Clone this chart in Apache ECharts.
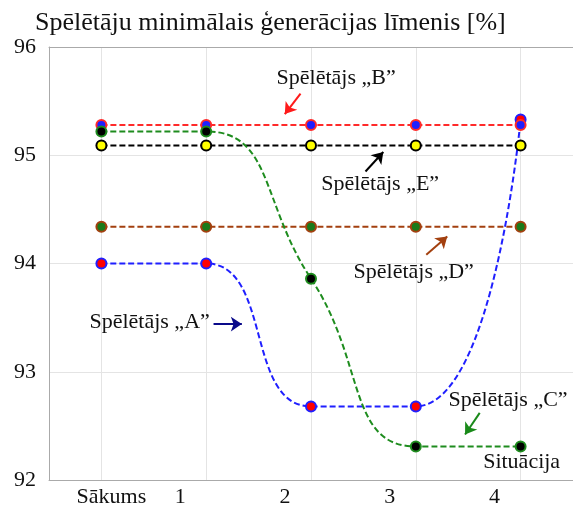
<!DOCTYPE html>
<html>
<head>
<meta charset="utf-8">
<script src="https://cdn.jsdelivr.net/npm/echarts@6/dist/echarts.min.js"></script>
<style>
  html, body { margin: 0; padding: 0; background: #fff; }
  #chart { width: 573px; height: 514px; }
</style>
</head>
<body>
<div id="chart"></div>
<script>
// x categories and y ticks
const categories = ['Sākums', '1', '2', '3', '4'];
const yMin = 92, yMax = 96, yStep = 1;

// values (%)
const playerA = [94.0, 94.0, 92.68, 92.68, 95.33];
const playerB = [95.28, 95.28, 95.28, 95.28, 95.28];
const playerC = [95.22, 95.22, 93.86, 92.31, 92.31];
const playerD = [94.34, 94.34, 94.34, 94.34, 94.34];
const playerE = [95.09, 95.09, 95.09, 95.09, 95.09];

// annotation texts, [x, y] in axis units (x: 0..5 across the plot)
const noteTexts = ['Spēlētājs „B”', 'Spēlētājs „E”', 'Spēlētājs „D”', 'Spēlētājs „A”', 'Spēlētājs „C”', 'Situācija'];
const notePos = [[2.74, 95.71], [3.16, 94.73], [3.48, 93.92], [0.96, 93.46], [4.38, 92.74], [4.51, 92.16]];

// arrows: [tail, tip]
const arrowCoords = [
  [[2.40, 95.57], [2.25, 95.38]],
  [[3.02, 94.85], [3.19, 95.03]],
  [[3.60, 94.08], [3.80, 94.25]],
  [[1.57, 93.44], [1.84, 93.44]],
  [[4.11, 92.62], [3.97, 92.42]]
];
const arrowColors = ['#ff1a1a', '#000000', '#a3400f', '#0a0a8a', '#1a8a1a'];

const serif = 'Liberation Serif';
const chart = echarts.init(document.getElementById('chart'));

function player(name, data, line, fill, smooth) {
  return {
    name: name,
    type: 'line',
    data: data,
    smooth: smooth ? 0.5 : false,
    symbol: 'circle',
    symbolSize: 10,
    lineStyle: { color: line, width: 2, type: [6, 3] },
    itemStyle: { color: fill, borderColor: line, borderWidth: 2 }
  };
}

const option = {
  animation: false,
  title: {
    text: 'Spēlētāju minimālais ģenerācijas līmenis [%]',
    left: 30,
    top: 5,
    textStyle: { fontFamily: serif, fontSize: 26, fontWeight: 'normal', color: '#111' }
  },
  grid: { left: 49, right: 0, top: 47, bottom: 34, containLabel: false, outerBoundsMode: 'none' },
  xAxis: [{
    type: 'category',
    data: categories,
    boundaryGap: true,
    axisLine: { lineStyle: { color: '#aaa' } },
    axisTick: { show: false },
    splitLine: { show: true, alignWithLabel: true, lineStyle: { color: '#e4e4e4' } },
    axisLabel: {
      interval: 0,
      margin: 6,
      fontFamily: serif, fontSize: 22, color: '#111',
      formatter: function (v, i) { return i === 0 ? '{s|' + v + '}' : '{n|' + v + '}'; },
      rich: {
        s: { fontFamily: serif, fontSize: 22, color: '#111', padding: [0, 0, 0, 20] },
        n: { fontFamily: serif, fontSize: 22, color: '#111', padding: [0, 52, 0, 0] }
      }
    }
  }, {
    type: 'value',
    position: 'top',
    min: 0, max: 5,
    axisLine: { show: true, onZero: false, lineStyle: { color: '#aaa' } },
    axisTick: { show: false },
    axisLabel: { show: false },
    splitLine: { show: false }
  }],
  yAxis: {
    type: 'value',
    min: yMin, max: yMax, interval: yStep,
    axisLine: { show: true, lineStyle: { color: '#aaa' } },
    axisTick: { show: false },
    splitLine: { lineStyle: { color: '#e4e4e4' } },
    axisLabel: { margin: 13, fontFamily: serif, fontSize: 22, color: '#111', padding: [6, 0, 0, 0] }
  },
  series: [
    player('D', playerD, '#a3400f', '#1a7a1a', false),
    player('E', playerE, '#000000', '#ffff00', false),
    player('A', playerA, '#1f1fff', '#ff0000', true),
    player('B', playerB, '#ff2a2a', '#1f1fff', false),
    player('C', playerC, '#1e8c1e', '#000000', true),
    {
      type: 'lines',
      coordinateSystem: 'cartesian2d',
      xAxisIndex: 1,
      yAxisIndex: 0,
      symbol: ['none', 'arrow'],
      symbolSize: 11,
      lineStyle: { width: 2, opacity: 1, curveness: 0 },
      data: arrowCoords.map(function (c, i) {
        return { coords: c, lineStyle: { color: arrowColors[i] } };
      })
    },
    {
      type: 'scatter',
      xAxisIndex: 1,
      yAxisIndex: 0,
      symbolSize: 1,
      itemStyle: { color: 'rgba(0,0,0,0)', opacity: 1 },
      label: {
        show: true, position: 'inside', formatter: '{b}',
        fontFamily: serif, fontSize: 22, color: '#111', opacity: 1,
        textBorderWidth: 0
      },
      data: noteTexts.map(function (t, i) { return { name: t, value: notePos[i] }; })
    }
  ]
};
chart.setOption(option);
</script>
</body>
</html>
